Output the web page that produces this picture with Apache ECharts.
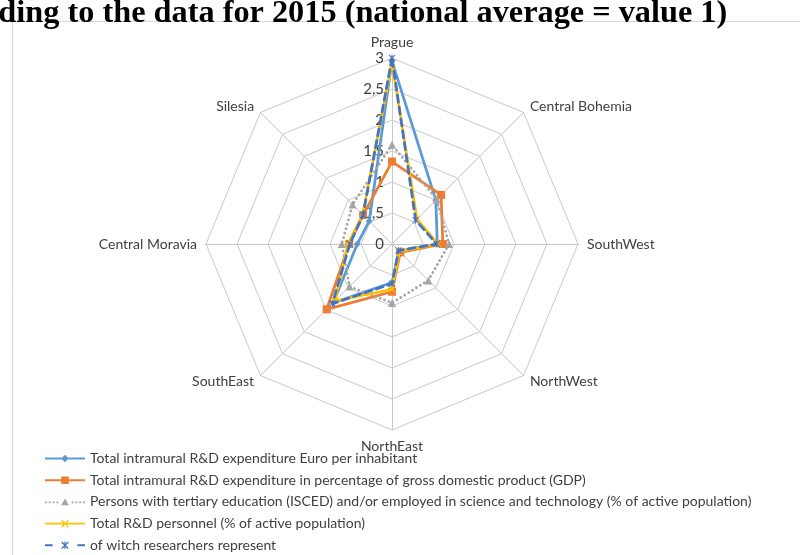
<!DOCTYPE html>
<html>
<head>
<meta charset="utf-8">
<script src="https://cdn.jsdelivr.net/npm/echarts@6/dist/echarts.min.js"></script>
<style>
  html, body { margin: 0; padding: 0; background: #fff; }
  #chart { width: 800px; height: 555px; }
</style>
</head>
<body>
<div id="chart"></div>
<script>
// Regions in clockwise order starting at the top
var regions = ['Prague', 'Central Bohemia', 'SouthWest', 'NorthWest', 'NorthEast', 'SouthEast', 'Central Moravia', 'Silesia'];

var seriesNames = [
  'Total intramural R&D expenditure Euro per inhabitant',
  'Total intramural R&D expenditure in percentage of gross domestic product (GDP)',
  'Persons with tertiary education (ISCED) and/or employed in science and technology (% of active population)',
  'Total R&D personnel (% of active population)',
  'of witch researchers represent'
];

var euroPerInhabitant = [2.95, 1.0, 0.73, 0.16, 0.62, 1.34, 0.56, 0.52];
var gdpShare          = [1.33, 1.12, 0.82, 0.19, 0.77, 1.49, 0.69, 0.66];
var tertiaryEducation = [1.6, 1.02, 0.92, 0.83, 0.95, 0.97, 0.81, 0.9];
var rdPersonnel       = [2.92, 0.57, 0.74, 0.17, 0.73, 1.3, 0.71, 0.67];
var researchers       = [3.0, 0.54, 0.72, 0.15, 0.64, 1.36, 0.68, 0.66];

var tickLabels = ['0', '0,5', '1', '1,5', '2', '2,5', '3'];
var axisMax = 3;

// ECharts places radar indicators counter-clockwise; reorder to get clockwise placement
var order = [0, 7, 6, 5, 4, 3, 2, 1];
function reorder(arr) { return order.map(function (i) { return arr[i]; }); }

var X_PATH = 'path://M0,1 L1,0 L5,4 L9,0 L10,1 L6,5 L10,9 L9,10 L5,6 L1,10 L0,9 L4,5 Z';
var STAR_PATH = 'path://M0,1 L1,0 L5,4 L9,0 L10,1 L6,5 L10,9 L9,10 L5,6 L1,10 L0,9 L4,5 Z M4.3,0 L5.7,0 L5.7,10 L4.3,10 Z';

var colors = ['#5B9BD5', '#ED7D31', '#A5A5A5', '#FFC000', '#4472C4'];
var values = [euroPerInhabitant, gdpShare, tertiaryEducation, rdPersonnel, researchers];
var symbols = ['diamond', 'rect', 'triangle', X_PATH, STAR_PATH];
var symbolSizes = [7, 8, 8, 7, 7];
var lineTypes = ['solid', 'solid', [0.1, 4.5], 'solid', [7, 5]];

var legendIcons = [
  'path://M0,4 L42,4 L42,6 L0,6 Z M21,1 L25,5 L21,9 L17,5 Z',
  'path://M0,4 L42,4 L42,6 L0,6 Z M17,1 L25,1 L25,9 L17,9 Z',
  'path://M0,4 L2,4 L2,6 L0,6 Z M4,4 L6,4 L6,6 L4,6 Z M8,4 L10,4 L10,6 L8,6 Z M12,4 L14,4 L14,6 L12,6 Z M28,4 L30,4 L30,6 L28,6 Z M32,4 L34,4 L34,6 L32,6 Z M36,4 L38,4 L38,6 L36,6 Z M40,4 L42,4 L42,6 L40,6 Z M21,1 L25,8 L17,8 Z',
  'path://M0,4 L42,4 L42,6 L0,6 Z M17,2 L18,1 L21,4 L24,1 L25,2 L22,5 L25,8 L24,9 L21,6 L18,9 L17,8 L20,5 Z',
  'path://M0,4 L8,4 L8,6 L0,6 Z M34,4 L42,4 L42,6 L34,6 Z M17,2 L18,1 L21,4 L24,1 L25,2 L22,5 L25,8 L24,9 L21,6 L18,9 L17,8 L20,5 Z M20.4,1 L21.6,1 L21.6,9 L20.4,9 Z'
];

var indicators = reorder(regions).map(function (name, i) {
  var ind = { name: name, max: axisMax, min: 0 };
  if (i === 0) {
    ind.axisLabel = { show: true };
  }
  return ind;
});

var series = values.map(function (vals, k) {
  return {
    type: 'radar',
    name: seriesNames[k],
    symbol: symbols[k],
    symbolSize: symbolSizes[k],
    z: 2 + k,
    lineStyle: { color: colors[k], width: 2.75, type: lineTypes[k], cap: 'round' },
    itemStyle: { color: colors[k], borderWidth: 0 },
    areaStyle: null,
    data: [{ name: seriesNames[k], value: reorder(vals) }]
  };
});

var chart = echarts.init(document.getElementById('chart'), null, { renderer: 'canvas' });
chart.setOption({
  animation: false,
  backgroundColor: '#fff',
  graphic: [
    {
      type: 'rect', z: -10, silent: true,
      shape: { x: 12.5, y: 21.5, width: 820, height: 560 },
      style: { fill: '#fff', stroke: '#D9D9D9', lineWidth: 1 }
    },
    {
      type: 'text', z: 10, silent: true,
      x: -16, y: 14,
      style: {
        text: 'rding to the data for 2015 (national average = value 1)',
        font: 'bold 32.3px "Liberation Serif"',
        fill: '#000',
        verticalAlign: 'middle',
        align: 'left'
      }
    }
  ],
  legend: {
    orient: 'vertical',
    left: 45,
    top: 451,
    padding: 0,
    itemWidth: 40,
    itemHeight: 10,
    itemGap: 6.7,
    itemStyle: { borderWidth: 0 },
    textStyle: { color: '#404040', fontFamily: 'Lato', fontSize: 14, lineHeight: 15 },
    data: seriesNames.map(function (n, k) { return { name: n, icon: legendIcons[k] }; })
  },
  radar: {
    center: [392, 244],
    radius: 186,
    startAngle: 90,
    shape: 'polygon',
    splitNumber: 6,
    nameGap: 9,
    axisName: { color: '#404040', fontFamily: 'Lato', fontSize: 14 },
    axisLine: { lineStyle: { color: '#C9C9C9', width: 1 } },
    splitLine: { lineStyle: { color: '#C9C9C9', width: 1 } },
    splitArea: { show: false },
    axisTick: { show: false },
    axisLabel: {
      show: false,
      color: '#404040',
      fontFamily: 'Lato',
      fontSize: 15,
      margin: 8,
      formatter: function (v) {
        var idx = Math.round(v / 0.5);
        return tickLabels[idx] !== undefined ? tickLabels[idx] : String(v).replace('.', ',');
      }
    },
    indicator: indicators
  },
  series: series
});
</script>
</body>
</html>
